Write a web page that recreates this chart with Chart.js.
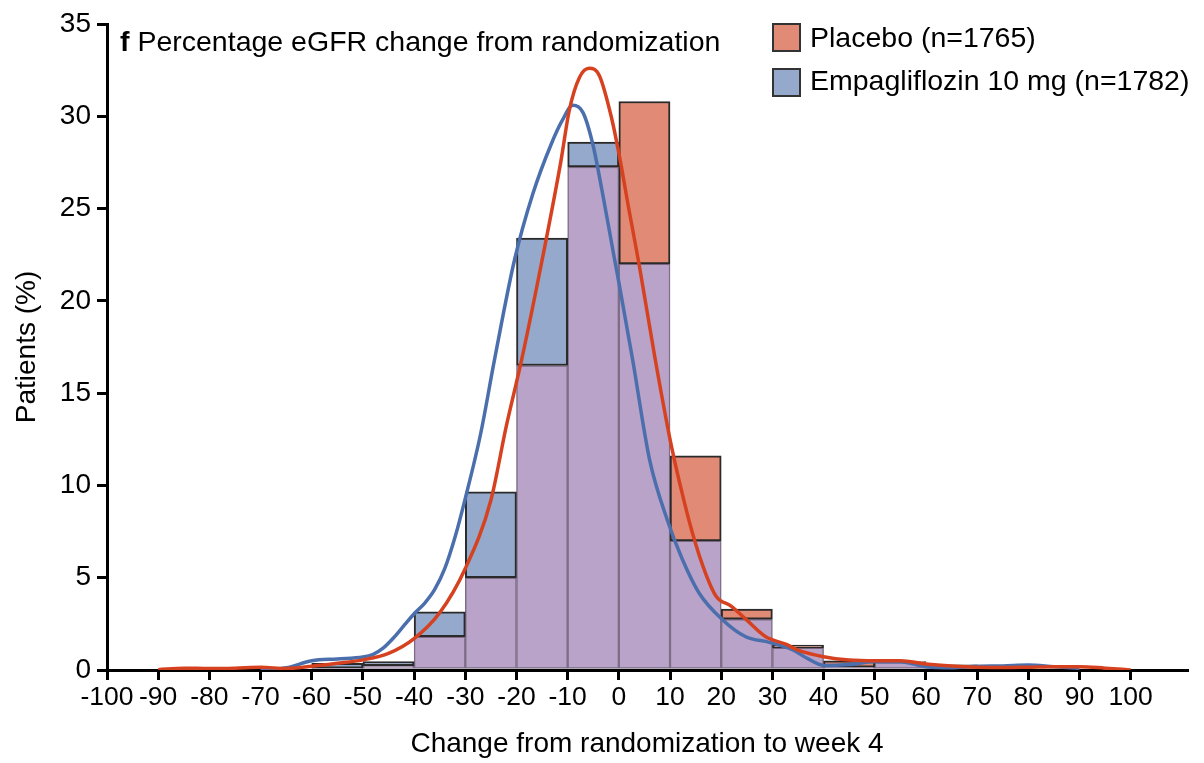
<!DOCTYPE html>
<html>
<head>
<meta charset="utf-8">
<script src="https://cdn.jsdelivr.net/npm/chart.js@4/dist/chart.umd.min.js"></script>
<style>
  html, body { margin:0; padding:0; background:#fff; }
  #wrap { position:relative; width:1204px; height:763px; }
  canvas { position:absolute; left:0; top:0; }
  .txt { position:absolute; font-family:"Liberation Sans", Arial, sans-serif; font-size:28.5px; line-height:28px; color:#000; white-space:nowrap; }
  .box { position:absolute; width:25px; height:25px; border:2px solid #333; }
</style>
</head>
<body>
<div id="wrap">
  <canvas id="c" width="1204" height="763"></canvas>
  <div class="txt" style="left:120px; top:27px;"><b>f</b> Percentage eGFR change from randomization</div>
  <div class="box" style="left:772px; top:23px; background:#e18a75;"></div>
  <div class="txt" style="left:810px; top:23px;">Placebo (n=1765)</div>
  <div class="box" style="left:772px; top:68px; background:#94a9cc;"></div>
  <div class="txt" style="left:810px; top:66px;">Empagliflozin 10 mg (n=1782)</div>
</div>
<script>
// ---- data ----
const binStarts  = [-60, -50, -40, -30, -20, -10, 0, 10, 20, 30, 40, 50, 60];
const binWidth   = 10;
const placeboPct = [0.10, 0.23, 1.8, 5.0, 16.5, 27.25, 30.8, 11.6, 3.3, 1.35, 0.50, 0.45, 0.28];
const empaPct    = [0.36, 0.45, 3.15, 9.65, 23.4, 28.6, 22.0, 7.0, 2.75, 1.2, 0.15, 0.42, 0.20];

const placeboCurveX = [-90,-85,-80,-75,-70,-65,-60,-55,-50,-45,-40,-35,-30,-25,-22,-19,-15,-11.3,-9.7,-7.7,-5.8,-3.8,-1.5,0,2,4,7,10,12,14.4,17,19,22,25,28.7,32.6,35,40,45,50,55,60,65,70,75,80,85,90,95,100];
const placeboCurveY = [0.02,0.1,0.08,0.1,0.15,0.08,0.2,0.36,0.55,0.9,1.7,3.1,5.5,9.2,13.2,16.8,22.2,27.6,30.3,32.1,32.6,32.2,30.0,28.0,24.9,21.9,17.0,12.5,10.0,7.4,5.2,4.0,3.45,2.7,1.8,1.4,1.08,0.72,0.54,0.5,0.5,0.33,0.22,0.15,0.13,0.15,0.18,0.18,0.1,0.0];

const empaCurveX = [-70,-65,-60,-55,-50,-48,-46,-44,-42,-40,-38,-36,-34,-32,-30,-27,-24.3,-20.4,-16.8,-13.2,-11,-9,-7,-5.1,-3.3,-1.0,0,2.7,6,9.5,12.4,15.7,20.3,24.8,29.4,33.9,37,40,45,50,55,60,65,70,75,80,85,90];
const empaCurveY = [0,0.12,0.5,0.6,0.7,0.85,1.2,1.75,2.4,3.05,3.6,4.35,5.5,7.2,9.3,12.8,16.8,22.2,25.8,28.5,29.8,30.6,30.2,28.5,26.0,22.5,21.0,16.8,11.4,8.1,6.0,4.16,2.71,1.8,1.5,1.1,0.6,0.25,0.3,0.45,0.45,0.18,0.12,0.2,0.22,0.27,0.18,0.1];

const xTickValues = [-100,-90,-80,-70,-60,-50,-40,-30,-20,-10,0,10,20,30,40,50,60,70,80,90,100];
const yTickValues = [0,5,10,15,20,25,30,35];

// ---- build datasets ----
const centers = binStarts.map(b => b + binWidth / 2);
const overlap = centers.map((c, i) => ({ x: c, y: Math.min(placeboPct[i], empaPct[i]) }));
const empaTop = [], placeboTop = [];
centers.forEach((c, i) => {
  const lo = Math.min(placeboPct[i], empaPct[i]);
  if (empaPct[i] > placeboPct[i]) empaTop.push({ x: c, y: [lo, empaPct[i]] });
  else if (placeboPct[i] > empaPct[i]) placeboTop.push({ x: c, y: [lo, placeboPct[i]] });
});
const toPts = (xs, ys) => xs.map((x, i) => ({ x, y: ys[i] }));

const FONT = '"Liberation Sans", Arial, sans-serif';
const barCommon = { grouped: false, barPercentage: 1, categoryPercentage: 1, borderSkipped: false };

new Chart(document.getElementById('c'), {
  data: {
    datasets: [
      { type: 'line', label: 'Placebo density', data: toPts(placeboCurveX, placeboCurveY),
        borderColor: '#d64220', borderWidth: 3.5, pointRadius: 0, cubicInterpolationMode: 'monotone', fill: false, order: 0 },
      { type: 'line', label: 'Empagliflozin density', data: toPts(empaCurveX, empaCurveY),
        borderColor: '#4b6fad', borderWidth: 3.5, pointRadius: 0, cubicInterpolationMode: 'monotone', fill: false, order: 1 },
      Object.assign({ type: 'bar', label: 'Placebo (n=1765)', data: placeboTop,
        backgroundColor: '#e18a75', borderColor: '#2a2a2a', borderWidth: 2, order: 2 }, barCommon),
      Object.assign({ type: 'bar', label: 'Empagliflozin 10 mg (n=1782)', data: empaTop,
        backgroundColor: '#94a9cc', borderColor: '#2a2a2a', borderWidth: 2, order: 3 }, barCommon),
      Object.assign({ type: 'bar', label: 'Overlap', data: overlap,
        backgroundColor: '#b9a3c9', borderColor: '#7d6d86', borderWidth: 1.5, order: 4 }, barCommon)
    ]
  },
  options: {
    responsive: false,
    animation: false,
    layout: { padding: { top: 24, right: 17, left: 0, bottom: 0 } },
    plugins: { legend: { display: false }, tooltip: { enabled: false }, title: { display: false } },
    scales: {
      x: {
        type: 'linear', min: -100, max: 111, offset: false,
        afterBuildTicks: s => { s.ticks = xTickValues.map(v => ({ value: v })); },
        afterFit: s => { s.height = 93; },
        border: { display: true, width: 3, color: '#000' },
        grid: { display: true, offset: false, drawOnChartArea: false, drawTicks: true, tickLength: 10, lineWidth: 3, color: '#000' },
        ticks: { font: { family: FONT, size: 26.5 }, color: '#000', padding: 2, maxRotation: 0, autoSkip: false },
        title: { display: true, text: 'Change from randomization to week 4', color: '#000',
                 font: { family: FONT, size: 28 }, padding: { top: 0, bottom: 2 } }
      },
      y: {
        min: 0, max: 35,
        afterBuildTicks: s => { s.ticks = yTickValues.map(v => ({ value: v })); },
        afterFit: s => { s.width = 107; },
        border: { display: true, width: 3, color: '#000' },
        grid: { display: true, offset: false, drawOnChartArea: false, drawTicks: true, tickLength: 10, lineWidth: 3, color: '#000' },
        ticks: { font: { family: FONT, size: 28 }, color: '#000', padding: 6 },
        title: { display: true, text: 'Patients (%)', color: '#000',
                 font: { family: FONT, size: 28 }, padding: { top: 10, bottom: 0 } }
      }
    }
  }
});
</script>
</body>
</html>
